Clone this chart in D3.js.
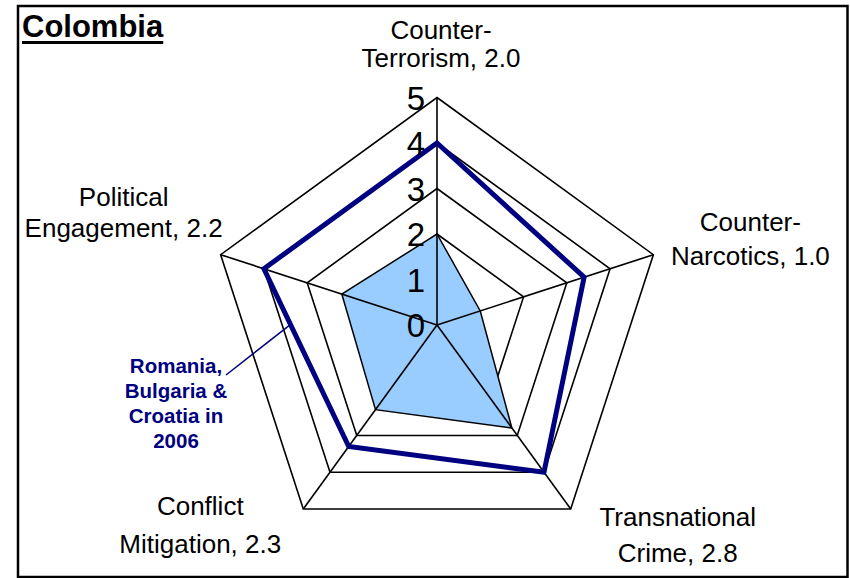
<!DOCTYPE html>
<html>
<head>
<meta charset="utf-8">
<script src="https://cdn.jsdelivr.net/npm/d3@7"></script>
<style>
  html, body { margin: 0; padding: 0; background: #fff; }
  svg { display: block; font-family: "Liberation Sans", Arial, sans-serif; }
</style>
</head>
<body>
<svg id="chart" width="850" height="578"></svg>
<script>
// Assessment axes, in clockwise order from the top
const axisFirstLines  = ["Counter-", "Counter-", "Transnational", "Conflict", "Political"];
const axisSecondLines = ["Terrorism", "Narcotics", "Crime", "Mitigation", "Engagement"];

// Colombia scores (filled area)
const colombiaValues = [2.0, 1.0, 2.8, 2.3, 2.2];
// Benchmark: Romania, Bulgaria & Croatia in 2006 (outline)
const benchmarkValues = [4.0, 3.4, 4.0, 3.3, 4.0];
const benchmarkLines = ["Romania,", "Bulgaria &", "Croatia in", "2006"];

// Radial tick labels
const tickValues = [0, 1, 2, 3, 4, 5];

const title = "Colombia";

// ---- layout ----
const cx = 437, cy = 325, outerR = 227.5;
const navy = "#000080";
const fillBlue = "#99CCFF";

// Label placement relative to each outer vertex: [dx, dy, line gap]
const labelOffsets = [
  [4, -58.5, 28],
  [97, -24, 34],
  [107, 17, 36],
  [-103, 6, 38],
  [-97, -49, 31]
];

const svg = d3.select("#chart");
const n = axisFirstLines.length;
const angle = i => i * 2 * Math.PI / n;            // clockwise from 12 o'clock
const r = d3.scaleLinear().domain([0, 5]).range([0, outerR]);
const pt = (i, v) => [cx + r(v) * Math.sin(angle(i)), cy - r(v) * Math.cos(angle(i))];

// Outer frame
svg.append("rect")
  .attr("x", 18).attr("y", 6)
  .attr("width", 829.5).attr("height", 571)
  .attr("fill", "none").attr("stroke", "#000").attr("stroke-width", 2.5);

// Title, underlined
const titleText = svg.append("text")
  .attr("x", 22).attr("y", 37)
  .attr("font-size", 31).attr("font-weight", "bold")
  .attr("fill", "#000")
  .text(title);
const tw = titleText.node().getComputedTextLength();
svg.append("line")
  .attr("x1", 22).attr("x2", 22 + tw)
  .attr("y1", 42.5).attr("y2", 42.5)
  .attr("stroke", "#000").attr("stroke-width", 3);

const plot = svg.append("g").attr("transform", `translate(${cx},${cy})`);

const radial = d3.lineRadial()
  .angle((d, i) => angle(i))
  .radius(d => r(d))
  .curve(d3.curveLinearClosed);

// Grid pentagons (behind the filled area)
tickValues.filter(t => t > 0).forEach(t => {
  plot.append("path")
    .datum(d3.range(n).map(() => t))
    .attr("d", radial)
    .attr("fill", "none")
    .attr("stroke", "#000").attr("stroke-width", 1.6)
    .attr("stroke-linejoin", "miter");
});

// Colombia filled area
plot.append("path")
  .datum(colombiaValues)
  .attr("d", radial)
  .attr("fill", fillBlue)
  .attr("stroke", "#000").attr("stroke-width", 1.5)
  .attr("stroke-linejoin", "miter");

// Spokes on top of the area
d3.range(n).forEach(i => {
  plot.append("line")
    .attr("x1", 0).attr("y1", 0)
    .attr("x2", r(5) * Math.sin(angle(i)))
    .attr("y2", -r(5) * Math.cos(angle(i)))
    .attr("stroke", "#000").attr("stroke-width", 1.6);
});

// Benchmark outline
plot.append("path")
  .datum(benchmarkValues)
  .attr("d", radial)
  .attr("fill", "none")
  .attr("stroke", navy).attr("stroke-width", 5)
  .attr("stroke-linejoin", "miter");

// Radial tick labels along the top spoke
svg.append("g").selectAll("text")
  .data(tickValues)
  .join("text")
  .attr("x", cx - 12)
  .attr("y", d => cy - r(d) + 12)
  .attr("text-anchor", "end")
  .attr("font-size", 33)
  .attr("fill", "#000")
  .text(d => d);

// Axis labels with scores
d3.range(n).forEach(i => {
  const [vx, vy] = pt(i, 5);
  const [dx, dy, gap] = labelOffsets[i];
  const t = svg.append("text")
    .attr("text-anchor", "middle")
    .attr("font-size", 26)
    .attr("fill", "#000");
  t.append("tspan").attr("x", vx + dx).attr("y", vy + dy).text(axisFirstLines[i]);
  t.append("tspan").attr("x", vx + dx).attr("y", vy + dy + gap)
    .text(`${axisSecondLines[i]}, ${colombiaValues[i].toFixed(1)}`);
});

// Benchmark annotation with leader line
const noteX = 176, noteY = 373;
const note = svg.append("text")
  .attr("text-anchor", "middle")
  .attr("font-size", 20.5).attr("font-weight", "bold")
  .attr("fill", navy);
benchmarkLines.forEach((s, k) => {
  note.append("tspan").attr("x", noteX).attr("y", noteY + k * 25).text(s);
});
const a = pt(4, benchmarkValues[4]), b = pt(3, benchmarkValues[3]);
const f = 0.32;
svg.append("line")
  .attr("x1", 226).attr("y1", 375)
  .attr("x2", a[0] + (b[0] - a[0]) * f - 2)
  .attr("y2", a[1] + (b[1] - a[1]) * f)
  .attr("stroke", navy).attr("stroke-width", 1.5);
</script>
</body>
</html>
